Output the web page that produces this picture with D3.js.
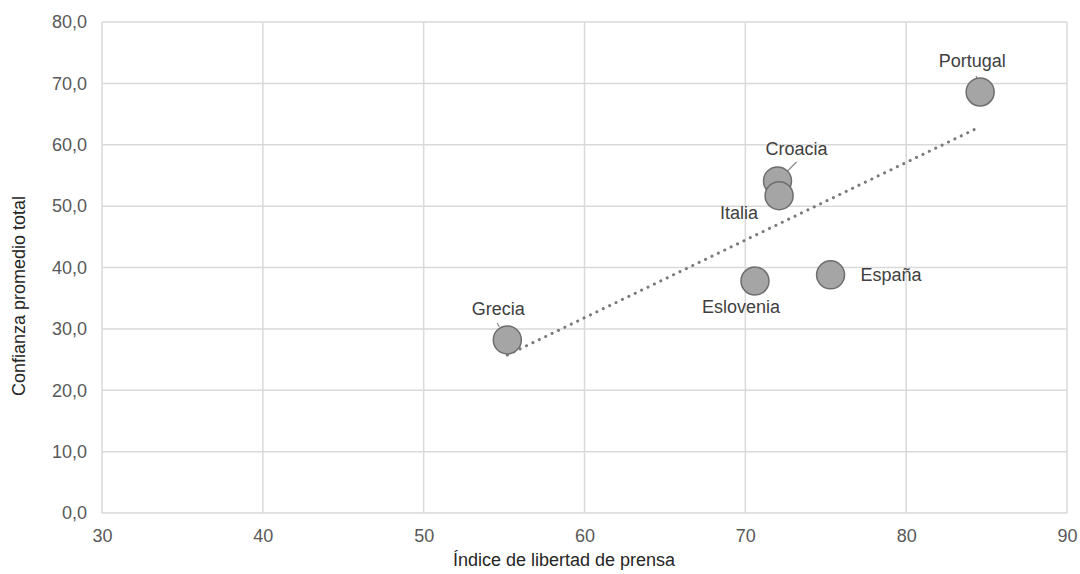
<!DOCTYPE html>
<html><head><meta charset="utf-8">
<script src="https://cdn.jsdelivr.net/npm/d3@7/dist/d3.min.js"></script>
<style>body{margin:0;background:#fff}svg{display:block;font-family:"Liberation Sans",Arial,sans-serif}</style>
</head><body><svg id="c" width="1080" height="574"></svg>
<script>
const countries = ["Grecia","Croacia","Italia","Eslovenia","España","Portugal"];
const pressIndex = [55.2, 72.0, 72.1, 70.6, 75.3, 84.6];
const trust = [28.2, 54.1, 51.7, 37.8, 38.8, 68.6];
const xTicks = [30,40,50,60,70,80,90];
const yTicks = [0,10,20,30,40,50,60,70,80];

// label layout (pixel offsets from the point)
const labelLayout = {
  "Grecia":   {dx:-9, dy:-31, anchor:"middle", leader:[[-10,-17],[-8,-13]]},
  "Croacia":  {dx:19, dy:-32, anchor:"middle", leader:[[19,-19],[10,-10]]},
  "Italia":   {dx:-40, dy:17, anchor:"middle"},
  "Eslovenia":{dx:-14, dy:26, anchor:"middle"},
  "España":   {dx:30, dy:0, anchor:"start"},
  "Portugal": {dx:-8, dy:-31, anchor:"middle", leader:[[-4,-16],[-3,-12]]}
};

const svg = d3.select("#c");
const m = {l:102, r:1067, t:22, b:513};
const x = d3.scaleLinear().domain([30,90]).range([m.l, m.r]);
const y = d3.scaleLinear().domain([0,80]).range([m.b, m.t]);
const txt = "#595959";
const FS = "18px";

// grid
svg.append("g").selectAll("line").data(xTicks).join("line")
  .attr("x1",d=>x(d)).attr("x2",d=>x(d)).attr("y1",m.t).attr("y2",m.b)
  .attr("stroke","#d9d9d9").attr("stroke-width",1.5);
svg.append("g").selectAll("line").data(yTicks).join("line")
  .attr("x1",m.l).attr("x2",m.r).attr("y1",d=>y(d)).attr("y2",d=>y(d))
  .attr("stroke","#d9d9d9").attr("stroke-width",1.5);

// axes labels via d3 axes
const fmt = d => d.toFixed(1).replace(".", ",");
const yAxis = svg.append("g").attr("transform",`translate(${m.l},0)`)
  .call(d3.axisLeft(y).tickValues(yTicks).tickFormat(fmt).tickSize(0).tickPadding(15));
const xAxis = svg.append("g").attr("transform",`translate(0,${m.b})`)
  .call(d3.axisBottom(x).tickValues(xTicks).tickFormat(d3.format("d")).tickSize(0).tickPadding(16));
[yAxis,xAxis].forEach(a=>{a.select(".domain").remove();
  a.selectAll("text").attr("fill",txt).style("font-size",FS).style("font-family",'"Liberation Sans",Arial,sans-serif');});

// axis titles
svg.append("text").attr("x",564).attr("y",566).attr("text-anchor","middle")
  .attr("fill","#262626").style("font-size",FS).text("Índice de libertad de prensa");
svg.append("text").attr("transform",`translate(25,296) rotate(-90)`).attr("text-anchor","middle")
  .attr("fill","#262626").style("font-size",FS).text("Confianza promedio total");

// trendline (least squares)
const n = pressIndex.length;
const mx = d3.mean(pressIndex), my = d3.mean(trust);
let sxy=0,sxx=0;
for(let i=0;i<n;i++){sxy+=(pressIndex[i]-mx)*(trust[i]-my);sxx+=(pressIndex[i]-mx)**2;}
const slope=sxy/sxx, icpt=my-slope*mx;
const [x0,x1]=d3.extent(pressIndex);
svg.append("line").attr("x1",x(x0)).attr("y1",y(icpt+slope*x0)).attr("x2",x(x1)).attr("y2",y(icpt+slope*x1))
  .attr("stroke","#7a7a7a").attr("stroke-width",3).attr("stroke-linecap","round").attr("stroke-dasharray","0.1 7");

const pts = countries.map((c,i)=>({c, x:pressIndex[i], y:trust[i]}));

// leaders
pts.forEach(p=>{const L=labelLayout[p.c]; if(L.leader){
  svg.append("line").attr("x1",x(p.x)+L.leader[0][0]).attr("y1",y(p.y)+L.leader[0][1])
   .attr("x2",x(p.x)+L.leader[1][0]).attr("y2",y(p.y)+L.leader[1][1]).attr("stroke","#8c8c8c").attr("stroke-width",1.2);}});

// points
svg.append("g").selectAll("circle").data(pts).join("circle")
  .attr("cx",d=>x(d.x)).attr("cy",d=>y(d.y)).attr("r",14)
  .attr("fill","#a5a5a5").attr("stroke","#6e6e6e").attr("stroke-width",1.5);

// labels
svg.append("g").selectAll("text").data(pts).join("text")
  .attr("x",d=>x(d.x)+labelLayout[d.c].dx).attr("y",d=>y(d.y)+labelLayout[d.c].dy)
  .attr("dy","0.35em").attr("text-anchor",d=>labelLayout[d.c].anchor)
  .attr("fill","#404040").style("font-size",FS).text(d=>d.c);
</script></body></html>
